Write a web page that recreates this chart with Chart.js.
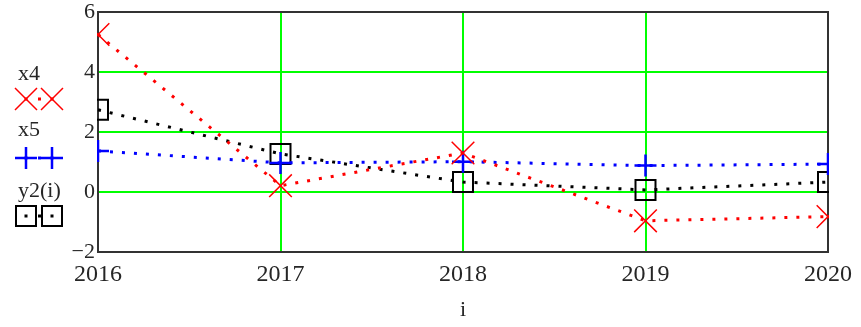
<!DOCTYPE html>
<html>
<head>
<meta charset="utf-8">
<script src="https://cdn.jsdelivr.net/npm/chart.js@4/dist/chart.umd.min.js"></script>
<style>
  html, body { margin: 0; padding: 0; background: #fff; }
  #wrap { position: relative; width: 861px; height: 327px; }
</style>
</head>
<body>
<div id="wrap"><canvas id="c" width="861" height="327"></canvas></div>
<script>
// Data series
const years = [2016, 2017, 2018, 2019, 2020];
const x4 = [5.25, 0.21, 1.3, -0.96, -0.82];
const x5 = [1.37, 0.97, 1.01, 0.88, 0.93];
const y2 = [2.74, 1.27, 0.33, 0.07, 0.33];
const yTicks = [-2, 0, 2, 4, 6];
const seriesNames = ['x4', 'x5', 'y2(i)'];
const axisTitle = 'i';

const SERIF = "'Liberation Serif', 'Times New Roman', serif";
const RED = '#ff0000', BLUE = '#0000ff', BLACK = '#000000';
const TEXT = '#262626';

function pts(values) {
  return years.map((yr, i) => ({ x: yr, y: values[i] }));
}

// Dotted trace style shared by all series
const dotted = { borderWidth: 3, borderDash: [3, 9], borderCapStyle: 'butt', tension: 0, clip: 1 };

// Frame around plot area, drawn below the series
const framePlugin = {
  id: 'frame',
  beforeDatasetsDraw(chart) {
    const { ctx, chartArea: a } = chart;
    ctx.save();
    ctx.strokeStyle = '#333';
    ctx.lineWidth = 2;
    ctx.strokeRect(a.left, a.top, a.right - a.left, a.bottom - a.top);
    ctx.restore();
  }
};

// Series key on the left side
const keyPlugin = {
  id: 'seriesKey',
  afterDraw(chart) {
    const ctx = chart.ctx;
    ctx.save();
    const rows = [
      { name: seriesNames[0], base: 80, sy: 99, color: RED, kind: 'x' },
      { name: seriesNames[1], base: 136, sy: 158, color: BLUE, kind: 'plus' },
      { name: seriesNames[2], base: 197, sy: 216, color: BLACK, kind: 'box' }
    ];
    rows.forEach(r => {
      ctx.font = '22px ' + SERIF;
      ctx.fillStyle = TEXT;
      ctx.textBaseline = 'alphabetic';
      ctx.textAlign = 'left';
      ctx.fillText(r.name, 18, r.base);
      const cx = [26, 52];
      ctx.strokeStyle = r.color;
      ctx.fillStyle = r.color;
      cx.forEach(x => {
        ctx.beginPath();
        if (r.kind === 'x') {
          ctx.lineWidth = 1.5;
          ctx.moveTo(x - 11, r.sy - 11); ctx.lineTo(x + 11, r.sy + 11);
          ctx.moveTo(x + 11, r.sy - 11); ctx.lineTo(x - 11, r.sy + 11);
        } else if (r.kind === 'plus') {
          ctx.lineWidth = 2.5;
          ctx.moveTo(x - 11, r.sy); ctx.lineTo(x + 11, r.sy);
          ctx.moveTo(x, r.sy - 11); ctx.lineTo(x, r.sy + 11);
        } else {
          ctx.lineWidth = 2;
          ctx.rect(x - 10, r.sy - 10, 20, 20);
        }
        ctx.stroke();
        ctx.fillRect(x - 1.5, r.sy - 1.5, 3, 3);
      });
      ctx.fillRect(38, r.sy - 1.5, 3, 3);
    });
    ctx.restore();
  }
};

const edgeless = (ctx, lo, hi) => {
  const v = ctx.tick && ctx.tick.value;
  return (v === lo || v === hi) ? 'rgba(0,0,0,0)' : '#00ff00';
};

new Chart(document.getElementById('c'), {
  type: 'line',
  data: {
    datasets: [
      Object.assign({
        label: seriesNames[0], data: pts(x4), borderColor: RED,
        pointStyle: 'crossRot', pointRadius: 16, pointBorderWidth: 1.5,
        pointBorderColor: RED, pointBackgroundColor: 'rgba(0,0,0,0)'
      }, dotted),
      Object.assign({
        label: seriesNames[1], data: pts(x5), borderColor: BLUE,
        pointStyle: 'cross', pointRadius: 11, pointBorderWidth: 2.5,
        pointBorderColor: BLUE, pointBackgroundColor: 'rgba(0,0,0,0)'
      }, dotted),
      Object.assign({
        label: seriesNames[2], data: pts(y2), borderColor: BLACK,
        pointStyle: 'rect', pointRadius: 14.14, pointBorderWidth: 2,
        pointBorderColor: BLACK, pointBackgroundColor: 'rgba(0,0,0,0)'
      }, dotted)
    ]
  },
  options: {
    responsive: false,
    animation: false,
    events: [],
    layout: { autoPadding: false, padding: { left: 0, right: 33, top: 12, bottom: 0 } },
    plugins: { legend: { display: false }, tooltip: { enabled: false } },
    scales: {
      x: {
        type: 'linear',
        min: years[0], max: years[years.length - 1],
        afterBuildTicks(scale) { scale.ticks = years.map(v => ({ value: v })); },
        afterFit(scale) { scale.height = 75; },
        border: { display: false },
        grid: { color: c => edgeless(c, years[0], years[years.length - 1]), lineWidth: 2, drawTicks: false },
        ticks: {
          padding: 8, color: TEXT, maxRotation: 0, autoSkip: false,
          font: { family: SERIF, size: 24 },
          callback: v => String(v)
        },
        title: {
          display: true, text: axisTitle, color: TEXT,
          font: { family: SERIF, size: 22 }, padding: { top: 0, bottom: 4 }
        }
      },
      y: {
        min: yTicks[0], max: yTicks[yTicks.length - 1],
        afterBuildTicks(scale) { scale.ticks = yTicks.map(v => ({ value: v })); },
        afterFit(scale) { scale.width = 98; scale.paddingTop = 0; scale.paddingBottom = 0; },
        border: { display: false },
        grid: { color: c => edgeless(c, yTicks[0], yTicks[yTicks.length - 1]), lineWidth: 2, drawTicks: false },
        ticks: {
          padding: 3, color: TEXT,
          font: { family: SERIF, size: 22 },
          callback: v => (v < 0 ? '\u2212' + Math.abs(v) : String(v))
        }
      }
    }
  },
  plugins: [framePlugin, keyPlugin]
});
</script>
</body>
</html>
